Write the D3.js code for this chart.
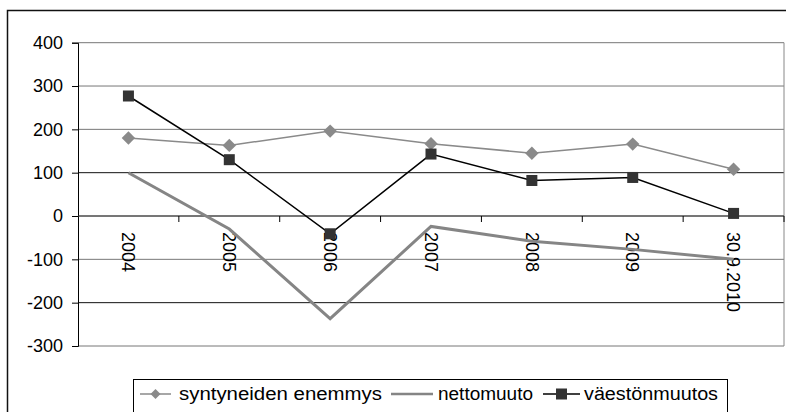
<!DOCTYPE html>
<html>
<head>
<meta charset="utf-8">
<script src="https://cdn.jsdelivr.net/npm/d3@7"></script>
<style>
  body { margin: 0; background: #fff; }
  text { font-family: Arial, "Liberation Sans", sans-serif; fill: #000; }
</style>
</head>
<body>
<div id="chart"></div>
<script>
(function() {
    var width = 786,
        height = 412;

    // data
    var categories = ["2004", "2005", "2006", "2007", "2008", "2009", "30.9.2010"];
    var syntyneidenEnemmys = [180, 163, 196, 167, 145, 166, 108];
    var nettomuuto = [100, -30, -237, -24, -58, -77, -100];
    var vaestonmuutos = [277, 130, -41, 143, 82, 89, 6];
    var yTicks = [400, 300, 200, 100, 0, -100, -200, -300];
    var seriesNames = ["syntyneiden enemmys", "nettomuuto", "väestönmuutos"];

    var plot = {left: 78, right: 784, top: 42.7, bottom: 346};

    var svg = d3.select("#chart")
        .append("svg")
        .attr("width", width)
        .attr("height", height);

    // outer chart border
    svg.append("rect")
        .attr("x", 7.5)
        .attr("y", 10.5)
        .attr("width", 790)
        .attr("height", 420)
        .attr("fill", "none")
        .attr("stroke", "#111")
        .attr("stroke-width", 1.5);

    var x = d3.scaleBand()
        .domain(categories)
        .range([plot.left, plot.right]);

    var y = d3.scaleLinear()
        .domain([-300, 400])
        .range([plot.bottom, plot.top]);

    function cx(d, i) { return x(categories[i]) + x.bandwidth() / 2; }

    // gridlines
    svg.append("g")
        .selectAll("line")
        .data(yTicks)
        .enter().append("line")
        .attr("x1", plot.left)
        .attr("x2", plot.right)
        .attr("y1", function(d) { return y(d); })
        .attr("y2", function(d) { return y(d); })
        .attr("stroke", function(d) { return (d == 100 || d == -200) ? "#111" : "#777"; })
        .attr("stroke-width", 1);

    // plot area right border
    svg.append("line")
        .attr("x1", plot.right).attr("x2", plot.right)
        .attr("y1", plot.top).attr("y2", plot.bottom)
        .attr("stroke", "#888");

    // y axis
    var yAxis = svg.append("g")
        .attr("transform", "translate(" + plot.left + ",0)")
        .call(d3.axisLeft(y).tickValues(yTicks).tickSize(6).tickPadding(9)
            .tickFormat(function(d) { return String(d); }));
    yAxis.select(".domain").attr("stroke", "#000");
    yAxis.selectAll(".tick line").attr("stroke", "#000");
    yAxis.selectAll("text")
        .attr("font-size", "18px")
        .attr("font-family", "Arial, 'Liberation Sans', sans-serif")
        .attr("fill", "#000");

    // x axis at zero
    var xAxis = svg.append("g")
        .attr("transform", "translate(0," + y(0) + ")");
    xAxis.append("line")
        .attr("x1", plot.left).attr("x2", plot.right)
        .attr("stroke", "#333");
    xAxis.selectAll(".xtick")
        .data(d3.range(1, categories.length + 1))
        .enter().append("line")
        .attr("class", "xtick")
        .attr("x1", function(i) { return plot.left + i * x.step(); })
        .attr("x2", function(i) { return plot.left + i * x.step(); })
        .attr("y1", 0)
        .attr("y2", 6)
        .attr("stroke", "#000");

    xAxis.selectAll(".xlabel")
        .data(categories)
        .enter().append("text")
        .attr("class", "xlabel")
        .attr("transform", function(d) {
            return "translate(" + (x(d) + x.bandwidth() / 2) + ",16) rotate(90)";
        })
        .attr("dy", "0.35em")
        .attr("font-size", "18px")
        .text(function(d) { return d; });

    var line = d3.line()
        .x(cx)
        .y(function(d) { return y(d); });

    // nettomuuto: thick gray, no markers
    svg.append("path")
        .datum(nettomuuto)
        .attr("d", line)
        .attr("fill", "none")
        .attr("stroke", "#858585")
        .attr("stroke-width", 3);

    // syntyneiden enemmys
    svg.append("path")
        .datum(syntyneidenEnemmys)
        .attr("d", line)
        .attr("fill", "none")
        .attr("stroke", "#8a8a8a")
        .attr("stroke-width", 1.5);

    var diamond = d3.symbol().type(d3.symbolSquare).size(90);

    svg.append("g")
        .selectAll("path")
        .data(syntyneidenEnemmys)
        .enter().append("path")
        .attr("d", diamond)
        .attr("transform", function(d, i) {
            return "translate(" + cx(d, i) + "," + y(d) + ") rotate(45)";
        })
        .attr("fill", "#8a8a8a");

    // väestönmuutos
    svg.append("path")
        .datum(vaestonmuutos)
        .attr("d", line)
        .attr("fill", "none")
        .attr("stroke", "#000")
        .attr("stroke-width", 1.5);

    svg.append("g")
        .selectAll("rect")
        .data(vaestonmuutos)
        .enter().append("rect")
        .attr("x", function(d, i) { return cx(d, i) - 5.5; })
        .attr("y", function(d) { return y(d) - 5.5; })
        .attr("width", 11)
        .attr("height", 11)
        .attr("fill", "#333");

    // legend
    var legend = svg.append("g");
    legend.append("rect")
        .attr("x", 133.5)
        .attr("y", 379.5)
        .attr("width", 594)
        .attr("height", 40)
        .attr("fill", "#fff")
        .attr("stroke", "#000");

    var ly = 394;
    var items = [
        {name: seriesNames[0], x1: 140, x2: 171, tx: 179, w: 203},
        {name: seriesNames[1], x1: 391, x2: 433, tx: 438, w: 95},
        {name: seriesNames[2], x1: 543, x2: 580, tx: 584, w: 134}
    ];

    legend.append("line")
        .attr("x1", items[0].x1).attr("x2", items[0].x2)
        .attr("y1", ly).attr("y2", ly)
        .attr("stroke", "#8a8a8a").attr("stroke-width", 1.5);
    legend.append("path")
        .attr("d", d3.symbol().type(d3.symbolSquare).size(50))
        .attr("transform", "translate(" + (items[0].x1 + items[0].x2) / 2 + "," + ly + ") rotate(45)")
        .attr("fill", "#8a8a8a");

    legend.append("line")
        .attr("x1", items[1].x1).attr("x2", items[1].x2)
        .attr("y1", ly).attr("y2", ly)
        .attr("stroke", "#858585").attr("stroke-width", 2.5);

    legend.append("line")
        .attr("x1", items[2].x1).attr("x2", items[2].x2)
        .attr("y1", ly).attr("y2", ly)
        .attr("stroke", "#000").attr("stroke-width", 1.5);
    legend.append("rect")
        .attr("x", (items[2].x1 + items[2].x2) / 2 - 5.5)
        .attr("y", ly - 5.5)
        .attr("width", 11)
        .attr("height", 11)
        .attr("fill", "#333");

    legend.selectAll(".ltext")
        .data(items)
        .enter().append("text")
        .attr("class", "ltext")
        .attr("x", function(d) { return d.tx; })
        .attr("y", ly)
        .attr("dy", "0.35em")
        .attr("font-size", "18px")
        .attr("textLength", function(d) { return d.w; })
        .attr("lengthAdjust", "spacingAndGlyphs")
        .text(function(d) { return d.name; });
})();
</script>
</body>
</html>
